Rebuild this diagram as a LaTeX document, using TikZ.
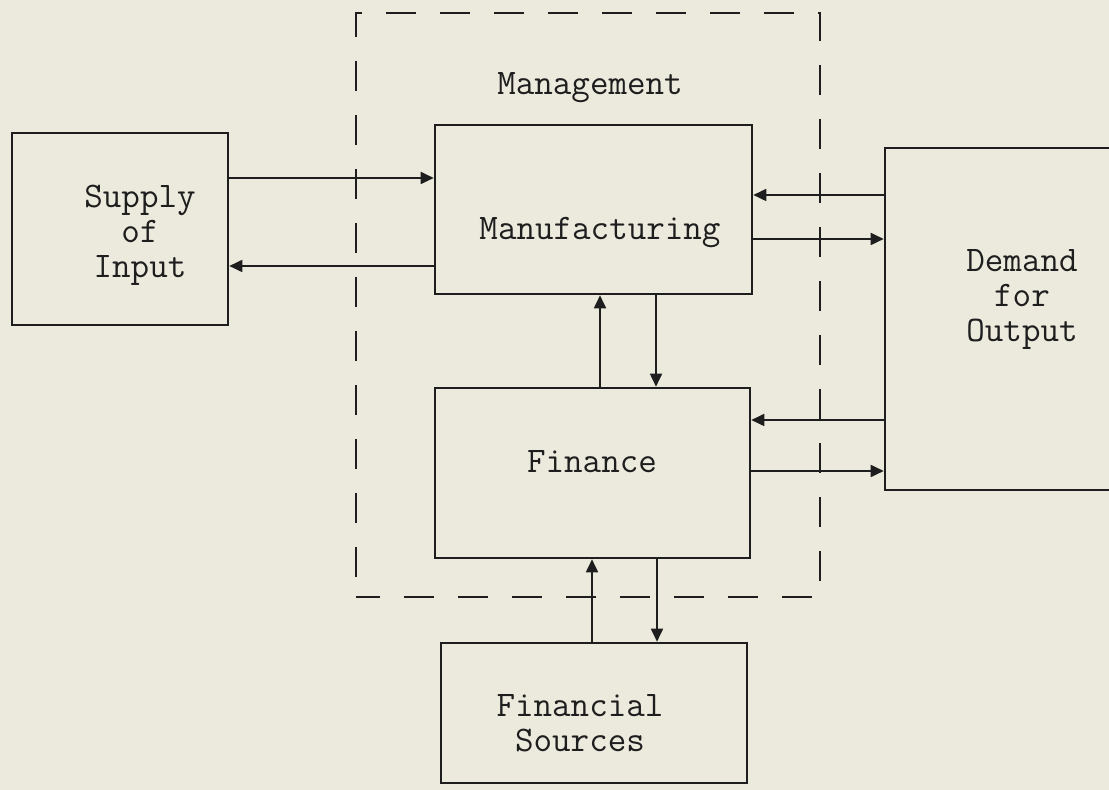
\documentclass[tikz,border=0pt]{standalone}
\usepackage{fontspec}
\usetikzlibrary{arrows.meta,positioning}
\definecolor{paper}{RGB}{236,233,221}
\definecolor{ink}{RGB}{30,30,30}

\begin{document}
\begin{tikzpicture}[x=0.5pt,y=-0.5pt,
                    box/.style={draw=ink,line width=1.3pt,inner sep=0pt},
                    txt/.style={align=center,text=ink,font=\ttfamily\fontsize{18}{17.5}\selectfont},
                    arr/.style={draw=ink,line width=0.9pt,-{Triangle[length=6.5pt,width=6pt]}}]

\fill[paper] (0,0) rectangle (1109,790);
\useasboundingbox (0,0) rectangle (1109,790);

% management frame
\node[box,dash pattern=on 15pt off 12pt,dash phase=3pt,minimum width=232pt,minimum height=292pt] (mgmt) at (588,305) {};
\node[txt] (mgmttxt) at (590,88) {Management};

% boxes
\node[box,minimum width=108pt,minimum height=96pt] (supply) at (120,229) {};
\node[box,minimum width=158.5pt,minimum height=84.5pt] (mfg) at (593.5,209.5) {};
\node[box,minimum width=157.5pt,minimum height=85pt] (fin) at (592.5,473) {};
\node[box,minimum width=137.5pt,minimum height=171pt] (demand) at (1022.5,319) {};
\node[box,minimum width=153pt,minimum height=70pt] (src) at (594,713) {};

\node[txt] (supplytxt) at (140,235) {Supply\\of\\Input};
\node[txt] (mfgtxt) at (600,233) {Manufacturing};
\node[txt] (fintxt) at (592,462) {Finance};
\node[txt] (demandtxt) at (1022,300) {Demand\\for\\Output};
\node[txt] (srctxt) at (580,723) {Financial\\Sources};

% rows and columns of the connectors
\coordinate (r1) at (0,178);
\coordinate (r2) at (0,266);
\coordinate (r3) at (0,195);
\coordinate (r4) at (0,239);
\coordinate (r5) at (0,420);
\coordinate (r6) at (0,471);
\coordinate (c1) at (600,0);
\coordinate (c2) at (656,0);
\coordinate (c3) at (592,0);
\coordinate (c4) at (657,0);

\draw[arr] (supply.east |- r1) -- (mfg.west |- r1);
\draw[arr] (mfg.west |- r2) -- (supply.east |- r2);
\draw[arr] (demand.west |- r3) -- (mfg.east |- r3);
\draw[arr] (mfg.east |- r4) -- (demand.west |- r4);
\draw[arr] (demand.west |- r5) -- (fin.east |- r5);
\draw[arr] (fin.east |- r6) -- (demand.west |- r6);
\draw[arr] (fin.north -| c1) -- (mfg.south -| c1);
\draw[arr] (mfg.south -| c2) -- (fin.north -| c2);
\draw[arr] (src.north -| c3) -- (fin.south -| c3);
\draw[arr] (fin.south -| c4) -- (src.north -| c4);
\end{tikzpicture}
\end{document}
